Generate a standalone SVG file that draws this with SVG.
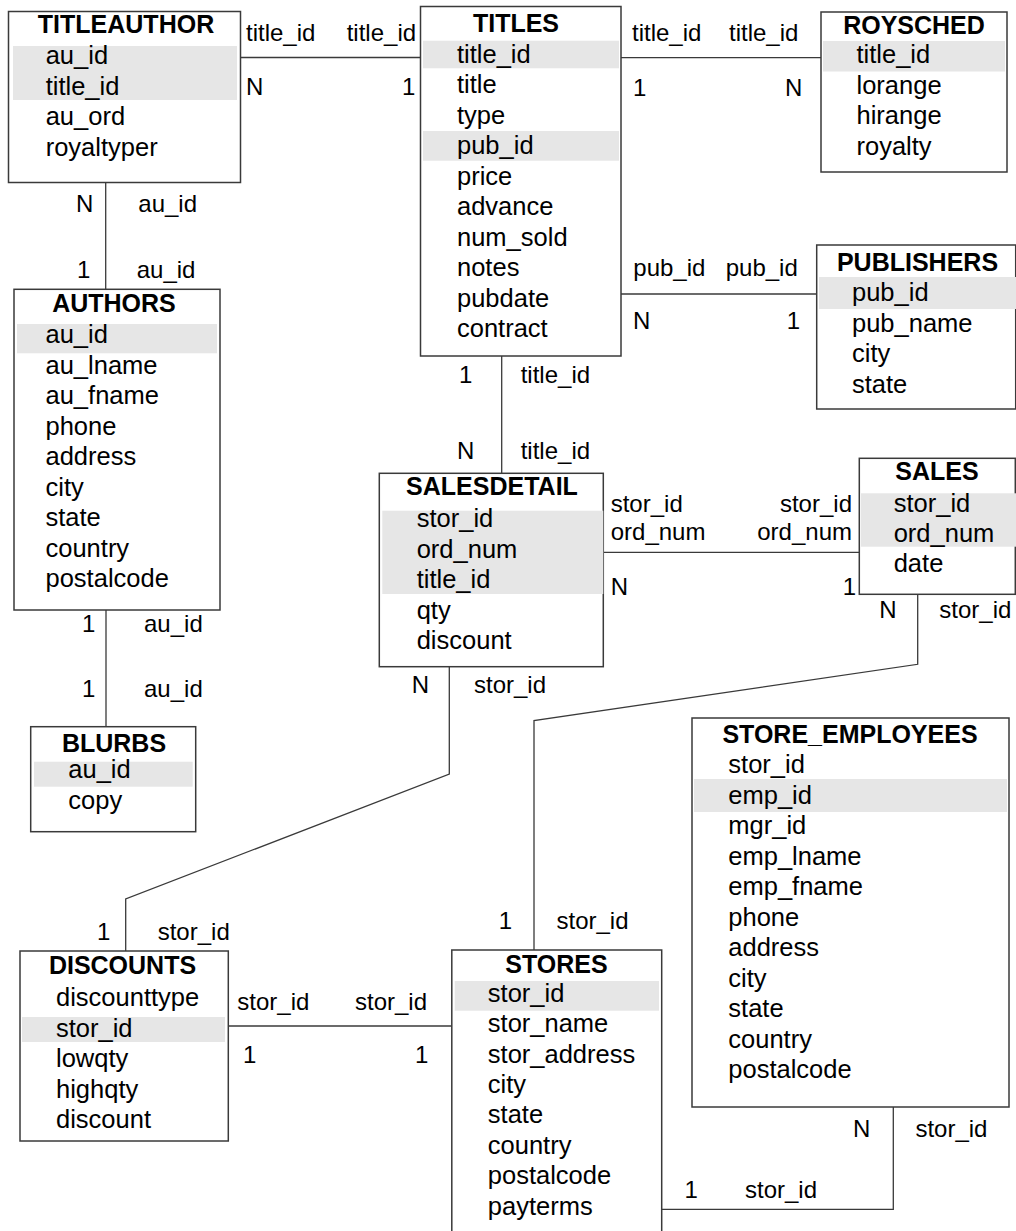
<svg xmlns="http://www.w3.org/2000/svg" width="1016" height="1231" viewBox="0 0 1016 1231">
<style>
.box{fill:#fff;stroke:#3a3a3a;stroke-width:1.5}
.key{fill:#e6e6e6}
.t{font-family:"Liberation Sans",Arial,sans-serif;font-size:25px;font-weight:bold;text-anchor:middle;fill:#000}
.f{font-family:"Liberation Sans",Arial,sans-serif;font-size:25.5px;fill:#000}
.l{font-family:"Liberation Sans",Arial,sans-serif;font-size:24px;fill:#000}
.e{text-anchor:end}
.c{fill:none;stroke:#3a3a3a;stroke-width:1.3}
</style>
<rect width="1016" height="1231" fill="#fff"/>
<g id="connectors">
  <line class="c" x1="241" y1="57.5" x2="420.5" y2="57.5"/>
  <text class="l" x="246" y="40.5">title_id</text>
  <text class="l" x="346.7" y="40.5">title_id</text>
  <text class="l" x="246" y="95">N</text>
  <text class="l" x="402" y="95">1</text>

  <line class="c" x1="621" y1="57.7" x2="821" y2="57.7"/>
  <text class="l" x="632" y="40.7">title_id</text>
  <text class="l" x="729" y="40.7">title_id</text>
  <text class="l" x="633" y="95.7">1</text>
  <text class="l" x="785" y="95.7">N</text>

  <line class="c" x1="105.7" y1="182" x2="105.7" y2="289.3"/>
  <text class="l" x="76" y="211.7">N</text>
  <text class="l" x="138.3" y="211.7">au_id</text>
  <text class="l" x="77" y="277.7">1</text>
  <text class="l" x="136.7" y="277.7">au_id</text>

  <line class="c" x1="106" y1="610" x2="106" y2="726.7"/>
  <text class="l" x="82" y="631.7">1</text>
  <text class="l" x="144" y="631.7">au_id</text>
  <text class="l" x="82" y="697">1</text>
  <text class="l" x="144" y="697">au_id</text>

  <line class="c" x1="621" y1="294" x2="816.7" y2="294"/>
  <text class="l" x="633.3" y="276">pub_id</text>
  <text class="l" x="725.7" y="276">pub_id</text>
  <text class="l" x="633" y="329.3">N</text>
  <text class="l" x="786.7" y="329.3">1</text>

  <line class="c" x1="501.7" y1="356" x2="501.7" y2="473.3"/>
  <text class="l" x="459" y="382.7">1</text>
  <text class="l" x="520.7" y="382.7">title_id</text>
  <text class="l" x="457" y="459.3">N</text>
  <text class="l" x="520.7" y="459.3">title_id</text>

  <line class="c" x1="603" y1="552.3" x2="859.3" y2="552.3"/>
  <text class="l" x="610.7" y="511.7">stor_id</text>
  <text class="l" x="610.7" y="540">ord_num</text>
  <text class="l e" x="852" y="511.7">stor_id</text>
  <text class="l e" x="852" y="540">ord_num</text>
  <text class="l" x="610.7" y="595">N</text>
  <text class="l" x="842.7" y="595">1</text>

  <polyline class="c" points="917.7,594.3 917.7,664.3 534,720.5 534,950"/>
  <text class="l" x="879.3" y="617.7">N</text>
  <text class="l" x="939.3" y="617.7">stor_id</text>
  <text class="l" x="498.8" y="929.3">1</text>
  <text class="l" x="556.5" y="929.3">stor_id</text>

  <polyline class="c" points="449.3,666.7 449.3,774 125.7,899 125.7,951"/>
  <text class="l" x="411.7" y="693.3">N</text>
  <text class="l" x="474" y="693.3">stor_id</text>
  <text class="l" x="97" y="940">1</text>
  <text class="l" x="157.7" y="940">stor_id</text>

  <line class="c" x1="228.3" y1="1026" x2="451.8" y2="1026"/>
  <text class="l" x="237.3" y="1010">stor_id</text>
  <text class="l" x="355" y="1010">stor_id</text>
  <text class="l" x="243" y="1063">1</text>
  <text class="l" x="415" y="1063">1</text>

  <polyline class="c" points="661.7,1209.3 893.3,1209.3 893.3,1107"/>
  <text class="l" x="684.5" y="1197.7">1</text>
  <text class="l" x="745" y="1197.7">stor_id</text>
  <text class="l" x="852.9" y="1136.7">N</text>
  <text class="l" x="915.4" y="1136.7">stor_id</text>
</g>

<g id="titleauthor">
  <rect class="box" x="8.5" y="11.5" width="232" height="171"/>
  <rect class="key" x="13" y="46" width="224" height="54"/>
  <text class="t" x="126" y="32.5">TITLEAUTHOR</text>
  <text class="f" x="45.7" y="64">au_id</text>
  <text class="f" x="45.7" y="94.5">title_id</text>
  <text class="f" x="45.7" y="125">au_ord</text>
  <text class="f" x="45.7" y="155.5">royaltyper</text>
</g>

<g id="titles">
  <rect class="box" x="420.5" y="6.5" width="200.5" height="349.5"/>
  <rect class="key" x="423" y="40.7" width="196" height="27.6"/>
  <rect class="key" x="423" y="131" width="196" height="29.7"/>
  <text class="t" x="516" y="31.7">TITLES</text>
  <text class="f" x="457" y="62.7">title_id</text>
  <text class="f" x="457" y="93.2">title</text>
  <text class="f" x="457" y="123.7">type</text>
  <text class="f" x="457" y="154.2">pub_id</text>
  <text class="f" x="457" y="184.7">price</text>
  <text class="f" x="457" y="215.2">advance</text>
  <text class="f" x="457" y="245.7">num_sold</text>
  <text class="f" x="457" y="276.2">notes</text>
  <text class="f" x="457" y="306.7">pubdate</text>
  <text class="f" x="457" y="337.2">contract</text>
</g>

<g id="roysched">
  <rect class="box" x="821" y="12" width="186" height="160"/>
  <rect class="key" x="823" y="41" width="182" height="30.5"/>
  <text class="t" x="914" y="33.5">ROYSCHED</text>
  <text class="f" x="856.5" y="63.3">title_id</text>
  <text class="f" x="856.5" y="93.8">lorange</text>
  <text class="f" x="856.5" y="124.3">hirange</text>
  <text class="f" x="856.5" y="154.8">royalty</text>
</g>

<g id="authors">
  <rect class="box" x="14" y="289.3" width="206" height="320.7"/>
  <rect class="key" x="17" y="324" width="200" height="29.3"/>
  <text class="t" x="114" y="311.7">AUTHORS</text>
  <text class="f" x="45.5" y="343.3">au_id</text>
  <text class="f" x="45.5" y="373.8">au_lname</text>
  <text class="f" x="45.5" y="404.3">au_fname</text>
  <text class="f" x="45.5" y="434.8">phone</text>
  <text class="f" x="45.5" y="465.3">address</text>
  <text class="f" x="45.5" y="495.8">city</text>
  <text class="f" x="45.5" y="526.3">state</text>
  <text class="f" x="45.5" y="556.8">country</text>
  <text class="f" x="45.5" y="587.3">postalcode</text>
</g>

<g id="blurbs">
  <rect class="box" x="30.7" y="726.7" width="165" height="105"/>
  <rect class="key" x="34" y="761.7" width="158.7" height="25"/>
  <text class="t" x="114" y="751.7">BLURBS</text>
  <text class="f" x="68.3" y="778.3">au_id</text>
  <text class="f" x="68.3" y="808.8">copy</text>
</g>

<g id="publishers">
  <rect class="box" x="816.7" y="245" width="199" height="164"/>
  <rect class="key" x="819" y="277" width="197" height="32"/>
  <text class="t" x="917.5" y="270.5">PUBLISHERS</text>
  <text class="f" x="852" y="301">pub_id</text>
  <text class="f" x="852" y="331.5">pub_name</text>
  <text class="f" x="852" y="362">city</text>
  <text class="f" x="852" y="392.5">state</text>
</g>

<g id="salesdetail">
  <rect class="box" x="379.3" y="473.3" width="224" height="193.4"/>
  <rect class="key" x="382.3" y="510.7" width="221" height="83.3"/>
  <text class="t" x="492" y="495">SALESDETAIL</text>
  <text class="f" x="416.7" y="527.3">stor_id</text>
  <text class="f" x="416.7" y="557.8">ord_num</text>
  <text class="f" x="416.7" y="588.3">title_id</text>
  <text class="f" x="416.7" y="618.8">qty</text>
  <text class="f" x="416.7" y="649.3">discount</text>
</g>

<g id="sales">
  <rect class="box" x="859.3" y="458.3" width="156" height="136"/>
  <rect class="key" x="861" y="493.3" width="155" height="53.4"/>
  <text class="t" x="937" y="480">SALES</text>
  <text class="f" x="893.7" y="511.7">stor_id</text>
  <text class="f" x="893.7" y="541.5">ord_num</text>
  <text class="f" x="893.7" y="571.7">date</text>
</g>

<g id="discounts">
  <rect class="box" x="20" y="951" width="208.3" height="190"/>
  <rect class="key" x="22" y="1017" width="203" height="25"/>
  <text class="t" x="122.5" y="974">DISCOUNTS</text>
  <text class="f" x="56" y="1006">discounttype</text>
  <text class="f" x="56" y="1036.5">stor_id</text>
  <text class="f" x="56" y="1067">lowqty</text>
  <text class="f" x="56" y="1097.5">highqty</text>
  <text class="f" x="56" y="1128">discount</text>
</g>

<g id="stores">
  <rect class="box" x="451.8" y="950" width="209.9" height="300"/>
  <rect class="key" x="454.7" y="981" width="204.3" height="29.7"/>
  <text class="t" x="556.5" y="972.7">STORES</text>
  <text class="f" x="487.8" y="1001.7">stor_id</text>
  <text class="f" x="487.8" y="1032.1">stor_name</text>
  <text class="f" x="487.8" y="1062.5">stor_address</text>
  <text class="f" x="487.8" y="1092.9">city</text>
  <text class="f" x="487.8" y="1123.3">state</text>
  <text class="f" x="487.8" y="1153.7">country</text>
  <text class="f" x="487.8" y="1184.1">postalcode</text>
  <text class="f" x="487.8" y="1214.5">payterms</text>
</g>

<g id="store_employees">
  <rect class="box" x="692" y="718" width="317" height="389"/>
  <rect class="key" x="694" y="779" width="313" height="33"/>
  <text class="t" x="850" y="743">STORE_EMPLOYEES</text>
  <text class="f" x="728.3" y="773">stor_id</text>
  <text class="f" x="728.3" y="803.5">emp_id</text>
  <text class="f" x="728.3" y="834">mgr_id</text>
  <text class="f" x="728.3" y="864.5">emp_lname</text>
  <text class="f" x="728.3" y="895">emp_fname</text>
  <text class="f" x="728.3" y="925.5">phone</text>
  <text class="f" x="728.3" y="956">address</text>
  <text class="f" x="728.3" y="986.5">city</text>
  <text class="f" x="728.3" y="1017">state</text>
  <text class="f" x="728.3" y="1047.5">country</text>
  <text class="f" x="728.3" y="1078">postalcode</text>
</g>
</svg>
